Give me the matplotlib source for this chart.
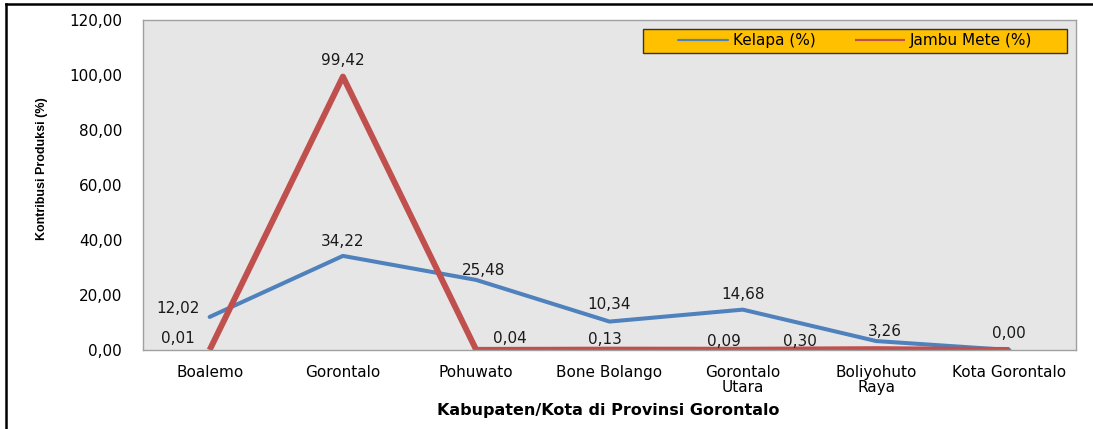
import matplotlib
matplotlib.use("Agg")
from matplotlib import pyplot as plt
from matplotlib.lines import Line2D
from matplotlib.patches import Rectangle
from matplotlib.ticker import FuncFormatter

# data
kabupaten = ["Boalemo", "Gorontalo", "Pohuwato", "Bone Bolango",
             "Gorontalo\nUtara", "Boliyohuto\nRaya", "Kota Gorontalo"]
kelapa = [12.02, 34.22, 25.48, 10.34, 14.68, 3.26, 0.00]
jambu_mete = [0.01, 99.42, 0.04, 0.13, 0.09, 0.30, 0.00]
kelapa_labels = ["12,02", "34,22", "25,48", "10,34", "14,68", "3,26", "0,00"]
jambu_labels = ["0,01", "99,42", "0,04", "0,13", "0,09", "0,30", None]

# label offsets in pixels (dx, dy)
kelapa_off = [(-32, 8), (0, 14), (7, 9), (0, 17), (0, 15), (9, 10), (0, 16)]
jambu_off = [(-32, 11), (0, 16), (34, 11), (-5, 10), (-19, 8), (-76, 8), (0, 0)]

BLUE = "#4F81BD"
RED = "#C0504D"
FS = 11

fig = plt.figure(figsize=(10.93, 4.29), dpi=100)
ax = fig.add_axes([143 / 1093, 79 / 429, 933 / 1093, 330 / 429])
ax.set_facecolor("#E6E6E6")

x = list(range(len(kabupaten)))
ax.plot(x, kelapa, color=BLUE, lw=2.9, solid_capstyle="round", label="Kelapa (%)")
ax.plot(x, jambu_mete, color=RED, lw=4.3, solid_capstyle="butt", label="Jambu Mete (%)")

for i in x:
    ax.annotate(kelapa_labels[i], (i, kelapa[i]), xytext=kelapa_off[i],
                textcoords="offset pixels", ha="center", va="center",
                fontsize=FS, color="#1a1a1a")
    if jambu_labels[i]:
        ax.annotate(jambu_labels[i], (i, jambu_mete[i]), xytext=jambu_off[i],
                    textcoords="offset pixels", ha="center", va="center",
                    fontsize=FS, color="#1a1a1a")

ax.set_xlim(-0.5, len(kabupaten) - 0.5)
ax.set_ylim(0, 120)
ax.set_yticks([0, 20, 40, 60, 80, 100, 120])
ax.yaxis.set_major_formatter(FuncFormatter(lambda v, p: f"{v:.2f}".replace(".", ",")))
ax.set_xticks(x)
ax.set_xticklabels(kabupaten, linespacing=1.0)
ax.tick_params(axis="y", length=0, pad=15, labelsize=FS)
ax.tick_params(axis="x", length=0, pad=11, labelsize=FS)
for s in ax.spines.values():
    s.set_color("#A0A0A0")
    s.set_linewidth(1)

# legend box: gold rectangle, entries centred inside it
lx0, ly0, lw_, lh = 500 / 933, 297 / 330, 424 / 933, 24 / 330
ax.add_patch(Rectangle((lx0, ly0), lw_, lh, transform=ax.transAxes,
                       facecolor="#FFC000", edgecolor="#333333", lw=1, zorder=4))
leg = ax.legend(loc="center", ncol=2, bbox_to_anchor=(lx0 + lw_ / 2, ly0 + lh / 2),
                fontsize=11, frameon=False, handlelength=3.3,
                handletextpad=0.3, columnspacing=2.6, borderpad=0,
                borderaxespad=0)
leg.set_zorder(5)
for h in leg.get_lines():
    h.set_linewidth(1.6)

fig.text(42 / 1093, 1 - 169 / 429, "Kontribusi Produksi (%)", rotation=90,
         ha="center", va="center", fontsize=9, fontweight="bold",
         family=["Liberation Sans Narrow", "Liberation Sans"])
fig.text(608 / 1093, 1 - 411 / 429, "Kabupaten/Kota di Provinsi Gorontalo",
         ha="center", va="center", fontsize=11.5, fontweight="bold")

# frame lines at top and left of the picture
fig.add_artist(Line2D([6 / 1093, 1], [1 - 4 / 429, 1 - 4 / 429], color="black", lw=1.8))
fig.add_artist(Line2D([6 / 1093, 6 / 1093], [0, 1 - 4 / 429], color="black", lw=1.8))

fig.savefig("out.png", dpi=100)
